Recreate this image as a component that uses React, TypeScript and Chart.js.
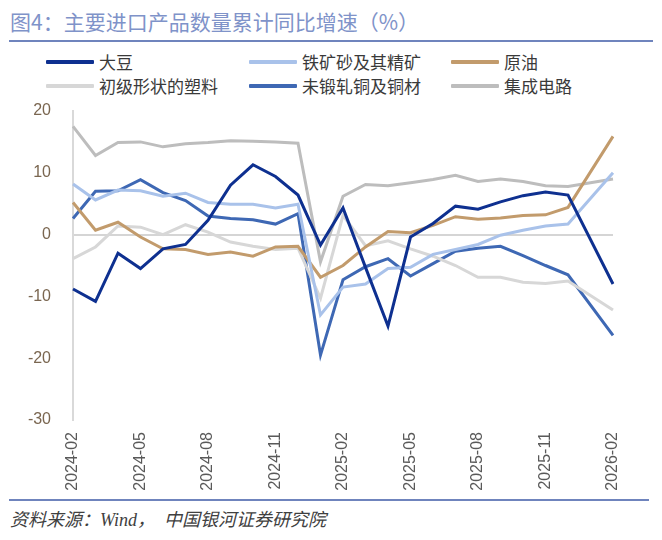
import React, { useEffect, useRef } from "react";
import { Chart, registerables } from "chart.js";

Chart.register(...registerables);

const categories = [
  "2024-02", "2024-03", "2024-04", "2024-05", "2024-06", "2024-07", "2024-08",
  "2024-09", "2024-10", "2024-11", "2024-12", "2025-01", "2025-02", "2025-03",
  "2025-04", "2025-05", "2025-06", "2025-07", "2025-08", "2025-09", "2025-10",
  "2025-11", "2025-12", "2026-01", "2026-02",
];

const soybean = [-8.8, -10.8, -3.0, -5.5, -2.3, -1.6, 2.3, 8.0, 11.3, 9.4, 6.4, -1.7, 4.3, -5.3, -14.8, -0.4, 1.8, 4.6, 4.1, 5.3, 6.3, 6.9, 6.4, null, -8.0];
const ironOre = [8.2, 5.6, 7.2, 7.1, 6.2, 6.7, 5.2, 4.9, 4.9, 4.3, 4.9, -13.0, -8.5, -8.0, -5.5, -5.3, -3.2, -2.4, -1.6, -0.1, 0.7, 1.4, 1.7, null, 10.0];
const crudeOil = [5.2, 0.7, 2.0, -0.4, -2.3, -2.4, -3.2, -2.8, -3.5, -2.0, -1.9, -6.9, -5.0, -2.0, 0.5, 0.3, 1.5, 2.9, 2.5, 2.7, 3.1, 3.2, 4.4, null, 15.9];
const plastics = [-3.9, -2.0, 1.4, 1.2, 0.0, 1.6, 0.4, -1.2, -1.9, -2.4, -2.2, -10.3, 3.1, -1.8, -1.0, -2.3, -3.5, -5.0, -6.9, -6.9, -7.7, -7.9, -7.5, null, -12.2];
const copper = [2.6, 7.0, 7.1, 8.9, 6.8, 5.5, 3.0, 2.6, 2.4, 1.7, 3.4, -19.5, -7.3, -5.2, -3.9, -6.7, -4.7, -2.7, -2.2, -1.9, -3.4, -5.0, -6.5, null, -16.3];
const integratedCircuits = [17.5, 12.8, 14.9, 15.0, 14.2, 14.7, 14.9, 15.2, 15.1, 15.0, 14.8, -4.4, 6.2, 8.1, 7.9, 8.4, 8.9, 9.6, 8.6, 9.0, 8.6, 7.9, 7.8, null, 9.0];

const seriesNames = ["大豆", "铁矿砂及其精矿", "原油", "初级形状的塑料", "未锻轧铜及铜材", "集成电路"];
const seriesValues = [soybean, ironOre, crudeOil, plastics, copper, integratedCircuits];
const seriesColors = ["#0e3090", "#a9c2ea", "#c29b6c", "#d7d7d7", "#3e68b4", "#bdbdbd"];

const yTicks = [-30, -20, -10, 0, 10, 20];

const titleText = "图4：主要进口产品数量累计同比增速（%）";
const sourceText = "资料来源：Wind，  中国银河证券研究院";

const legendCols = [46, 249, 451];
const legendRows = [62, 86];

export default function App() {
  const canvasRef = useRef<HTMLCanvasElement | null>(null);

  useEffect(() => {
    if (!canvasRef.current) return;
    const chart = new Chart(canvasRef.current, {
      type: "line",
      data: {
        labels: categories,
        datasets: seriesNames.map((name, i) => ({
          label: name,
          data: seriesValues[i],
          borderColor: seriesColors[i],
          backgroundColor: seriesColors[i],
          borderWidth: 3,
          pointRadius: 0,
          tension: 0,
          spanGaps: true,
          fill: false,
        })),
      },
      options: {
        animation: false,
        responsive: false,
        maintainAspectRatio: false,
        devicePixelRatio: 1,
        layout: { padding: { left: 0, right: 41, top: 11, bottom: 0 } },
        plugins: {
          legend: { display: false },
          title: { display: false },
          tooltip: { enabled: false },
        },
        scales: {
          x: {
            type: "category",
            offset: false,
            grid: { display: false, drawTicks: false },
            border: { display: false },
            ticks: {
              autoSkip: false,
              maxRotation: 90,
              minRotation: 90,
              padding: 12,
              color: "#595959",
              font: { family: "Liberation Sans, Arial, sans-serif", size: 16 },
              callback: (_v: any, i: number) => (i % 3 === 0 ? categories[i] : ""),
            },
            afterFit: (scale: any) => {
              scale.height = 80;
            },
          },
          y: {
            min: -30,
            max: 20,
            afterBuildTicks: (scale: any) => {
              scale.ticks = yTicks.map((v) => ({ value: v }));
            },
            grid: {
              drawTicks: true,
              tickLength: 22,
              tickColor: "rgba(0,0,0,0)",
              color: (ctx: any) => (ctx.tick && ctx.tick.value === 0 ? "#d5d5d5" : "rgba(0,0,0,0)"),
              lineWidth: 2,
            },
            border: { display: true, color: "#d9d9d9", width: 2 },
            ticks: {
              padding: 0,
              color: "#7a6650",
              font: { family: "Liberation Sans, Arial, sans-serif", size: 16 },
            },
            afterFit: (scale: any) => {
              scale.width = 65;
            },
          },
        },
      },
    });
    return () => chart.destroy();
  }, []);

  return (
    <div style={{ position: "absolute", left: 0, top: 0, width: 662, height: 540, background: "#fff", overflow: "hidden" }}>
      <div
        style={{
          position: "absolute",
          left: 10,
          top: 9,
          fontSize: 21,
          lineHeight: "24px",
          color: "#7f93c9",
          fontFamily: "'Noto Sans CJK SC', sans-serif",
          whiteSpace: "nowrap",
        }}
      >
        {titleText}
      </div>
      <div style={{ position: "absolute", left: 9, top: 40, width: 644, height: 2, background: "#6f84bd" }} />
      {seriesNames.map((name, i) => {
        const cx = legendCols[i % 3];
        const cy = legendRows[Math.floor(i / 3)];
        return (
          <div key={name} style={{ position: "absolute", left: cx, top: cy - 12, height: 24, display: "flex", alignItems: "center" }}>
            <div style={{ width: 48, height: 4, background: seriesColors[i], marginRight: 5, borderRadius: 1 }} />
            <span
              style={{
                fontSize: 17,
                lineHeight: "24px",
                color: "#3a3a3a",
                fontFamily: "'Noto Sans CJK SC', sans-serif",
                whiteSpace: "nowrap",
              }}
            >
              {name}
            </span>
          </div>
        );
      })}
      <canvas ref={canvasRef} width={646} height={400} style={{ position: "absolute", left: 8, top: 100, width: 646, height: 400 }} />
      <div style={{ position: "absolute", left: 9, top: 499, width: 640, height: 2, background: "#6f84bd" }} />
      <div
        style={{
          position: "absolute",
          left: 10,
          top: 507,
          fontSize: 18,
          lineHeight: "26px",
          color: "#404040",
          fontStyle: "italic",
          fontFamily: "'Liberation Serif', 'Noto Sans CJK SC', serif",
          whiteSpace: "pre",
        }}
      >
        {sourceText}
      </div>
    </div>
  );
}
